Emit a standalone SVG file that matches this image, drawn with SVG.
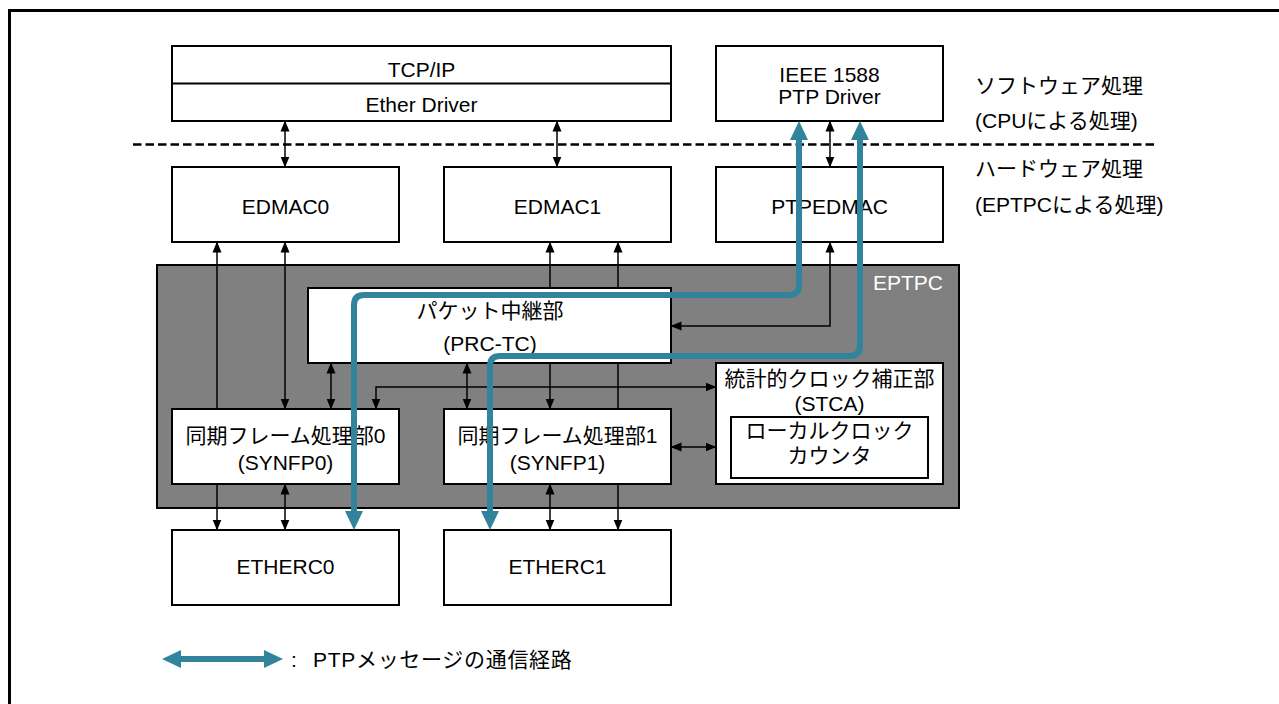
<svg xmlns="http://www.w3.org/2000/svg" width="1279" height="704" viewBox="0 0 1279 704">
<style>
text{font-family:"Liberation Sans","Noto Sans CJK JP",sans-serif;font-size:21px;fill:#000;text-anchor:middle}
.l{text-anchor:start}
.box{fill:#fff;stroke:#000;stroke-width:2}
.c{fill:none;stroke:#000;stroke-width:1.5}
.d{marker-start:url(#ah);marker-end:url(#ah)}
.e{marker-end:url(#ah)}
.t{fill:none;stroke:#31849B;stroke-width:6;marker-start:url(#th);marker-end:url(#th)}
</style>
<defs>
<marker id="ah" markerUnits="userSpaceOnUse" markerWidth="11" markerHeight="10" viewBox="0 0 11 10" refX="10.5" refY="5" orient="auto-start-reverse"><path d="M0,0.5 L11,5 L0,9.5 z" fill="#000"/></marker>
<marker id="th" markerUnits="userSpaceOnUse" markerWidth="19" markerHeight="19" viewBox="0 0 19 19" refX="4" refY="9.5" orient="auto-start-reverse"><path d="M0,0.5 L19,9.5 L0,18.5 z" fill="#31849B"/></marker>
</defs>
<rect x="0" y="0" width="1279" height="704" fill="#fff"/>
<rect id="frame" x="9.5" y="10.5" width="1300" height="800" fill="none" stroke="#000" stroke-width="3"/>
<line x1="133" y1="144.5" x2="1155" y2="144.5" stroke="#000" stroke-width="2.5" stroke-dasharray="8.5 4"/>
<g id="eptpc">
<rect x="157" y="265" width="802" height="243" fill="#808080" stroke="#000" stroke-width="2"/>
<text x="873" y="290" class="l" style="fill:#fff">EPTPC</text>
</g>
<g id="connectors">
<path class="c d" d="M285,121 V167"/>
<path class="c d" d="M557,121 V167"/>
<path class="c d" d="M830,121 V167"/>
<path class="c e" d="M217,409 V242"/>
<path class="c e" d="M217,484 V530"/>
<path class="c d" d="M285,242 V409"/>
<path class="c d" d="M285,484 V530"/>
<path class="c d" d="M331,363 V409"/>
<path class="c d" d="M716,387 H376 V409"/>
<path class="c d" d="M467,363 V409"/>
<path class="c d" d="M550,242 V409"/>
<path class="c e" d="M618,409 V242"/>
<path class="c e" d="M618,484 V530"/>
<path class="c d" d="M550,484 V530"/>
<path class="c d" d="M830,242 V326 H671"/>
<path class="c d" d="M671,447 H716"/>
</g>
<g id="tcpip">
<rect class="box" x="172" y="46" width="499" height="75"/>
<line x1="172" y1="83.5" x2="671" y2="83.5" stroke="#000" stroke-width="2"/>
<text x="421.5" y="77">TCP/IP</text>
<text x="421.5" y="112">Ether Driver</text>
</g>
<g id="ptpdriver">
<rect class="box" x="716" y="46" width="227" height="75"/>
<text x="829.5" y="82">IEEE 1588</text>
<text x="829.5" y="104">PTP Driver</text>
</g>
<g id="labels">
<text x="975" y="93" class="l">ソフトウェア処理</text>
<text x="975" y="128" class="l">(CPUによる処理)</text>
<text x="975" y="176" class="l">ハードウェア処理</text>
<text x="975" y="212" class="l">(EPTPCによる処理)</text>
</g>
<g id="edmac0">
<rect class="box" x="172" y="167" width="227" height="75"/>
<text x="285.5" y="214">EDMAC0</text>
</g>
<g id="edmac1">
<rect class="box" x="444" y="167" width="227" height="75"/>
<text x="557.5" y="214">EDMAC1</text>
</g>
<g id="ptpedmac">
<rect class="box" x="716" y="167" width="227" height="75"/>
<text x="829.5" y="214">PTPEDMAC</text>
</g>
<g id="prctc">
<rect class="box" x="308" y="288" width="363" height="75"/>
<text x="490" y="318">パケット中継部</text>
<text x="490" y="351">(PRC-TC)</text>
</g>
<g id="synfp0">
<rect class="box" x="172" y="409" width="227" height="75"/>
<text x="285.5" y="443">同期フレーム処理部0</text>
<text x="285.5" y="470">(SYNFP0)</text>
</g>
<g id="synfp1">
<rect class="box" x="444" y="409" width="227" height="75"/>
<text x="557.5" y="443">同期フレーム処理部1</text>
<text x="557.5" y="470">(SYNFP1)</text>
</g>
<g id="stca">
<rect class="box" x="716" y="363" width="227" height="121"/>
<text x="829.5" y="386">統計的クロック補正部</text>
<text x="829.5" y="411">(STCA)</text>
</g>
<g id="localclock">
<rect class="box" x="731" y="417" width="197" height="61"/>
<text x="829.5" y="438">ローカルクロック</text>
<text x="829.5" y="463">カウンタ</text>
</g>
<g id="etherc0">
<rect class="box" x="172" y="530" width="227" height="75"/>
<text x="285.5" y="574">ETHERC0</text>
</g>
<g id="etherc1">
<rect class="box" x="444" y="530" width="227" height="75"/>
<text x="557.5" y="574">ETHERC1</text>
</g>
<g id="ptp-paths">
<path class="t" d="M354,515 V305 Q354,295 364,295 H789 Q799,295 799,285 V136"/>
<path class="t" d="M490,515 V366 Q490,356 500,356 H850 Q860,356 860,346 V136"/>
</g>
<g id="legend">
<path class="t" d="M177,659 H268"/>
<text x="294" y="667">:</text>
<text x="313" y="667" class="l" style="letter-spacing:0.7px">PTPメッセージの通信経路</text>
</g>
</svg>
